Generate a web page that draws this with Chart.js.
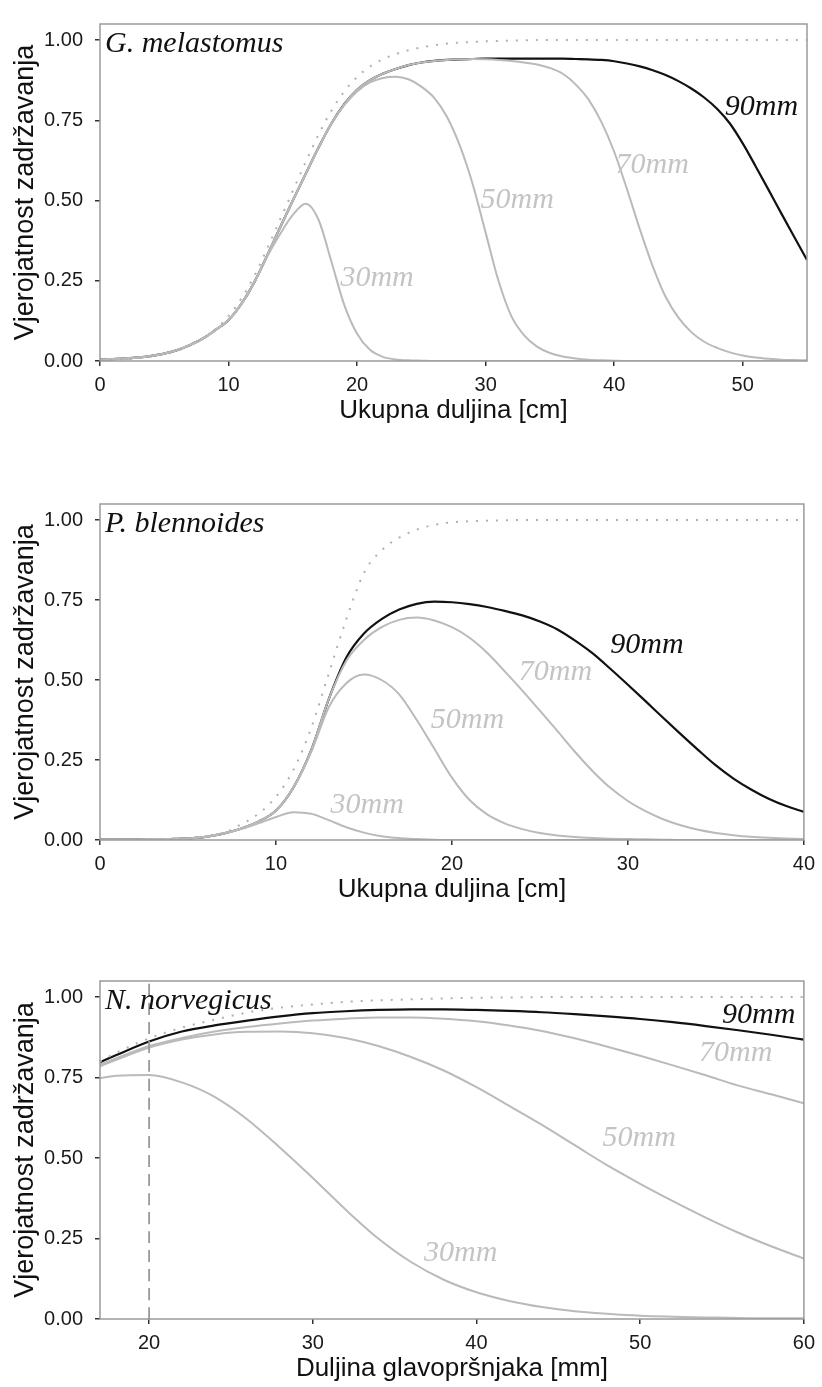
<!DOCTYPE html>
<html>
<head>
<meta charset="utf-8">
<script src="https://cdn.jsdelivr.net/npm/chart.js@4.4.1/dist/chart.umd.min.js"></script>
<style>
  body { margin: 0; background: #fff; overflow: hidden; }
  canvas { position: absolute; left: 0; }
</style>
</head>
<body>
<canvas id="c1" width="822" height="440" style="top:0px"></canvas>
<canvas id="c2" width="822" height="439" style="top:480px"></canvas>
<canvas id="c3" width="822" height="441" style="top:957px"></canvas>
<script>
// shared
const yTicks = [0, 0.25, 0.5, 0.75, 1]
const sizeLabels = ["30mm", "50mm", "70mm", "90mm"]

// G. melastomus (x = 0..55 cm)
const gmX = [0, 1, 2, 3, 4, 5, 6, 7, 8, 9, 10, 11, 12, 13, 14, 15, 16, 17, 18, 19, 20, 21, 22, 23, 24, 25, 26, 27, 28, 29, 30, 31, 32, 33, 34, 35, 36, 37, 38, 39, 40, 41, 42, 43, 44, 45, 46, 47, 48, 49, 50, 51, 52, 53, 54, 55]
const gmTicks = [0, 10, 20, 30, 40, 50]
const gmSel = [0.003, 0.004, 0.006, 0.009, 0.014, 0.021, 0.032, 0.048, 0.07, 0.1, 0.14, 0.195, 0.265, 0.35, 0.44, 0.53, 0.62, 0.705, 0.78, 0.84, 0.885, 0.917, 0.94, 0.956, 0.968, 0.977, 0.984, 0.989, 0.992, 0.994, 0.996, 0.997, 0.998, 0.999,
  1, 1, 1, 1, 1, 1, 1, 1, 1, 1, 1, 1, 1, 1, 1, 1, 1, 1, 1, 1, 1, 1]
const gm30 = [0.004, 0.006, 0.008, 0.011, 0.016, 0.023, 0.034, 0.05, 0.07, 0.097, 0.128, 0.178, 0.245, 0.325, 0.395, 0.455, 0.49, 0.44, 0.31, 0.175, 0.085, 0.035, 0.013, 0.005, 0.002, 0.001,
  0, 0, 0, 0, 0, 0, 0, 0, 0, 0, 0, 0, 0, 0, 0, 0, 0, 0, 0, 0, 0, 0, 0, 0, 0, 0, 0, 0, 0, 0]
const gm50 = [0.004, 0.006, 0.008, 0.011, 0.016, 0.023, 0.034, 0.05, 0.07, 0.097, 0.128, 0.178, 0.245, 0.328, 0.415, 0.5, 0.583, 0.665, 0.74, 0.797, 0.84, 0.868, 0.882, 0.886, 0.878, 0.855, 0.82, 0.76, 0.67, 0.55, 0.4, 0.25, 0.14, 0.08, 0.045, 0.025, 0.014, 0.008, 0.004, 0.002, 0.001,
  0, 0, 0, 0, 0, 0, 0, 0, 0, 0, 0, 0, 0, 0, 0]
const gm70 = [0.004, 0.006, 0.008, 0.011, 0.016, 0.023, 0.034, 0.05, 0.07, 0.097, 0.128, 0.178, 0.245, 0.328, 0.415, 0.5, 0.583, 0.665, 0.74, 0.8, 0.845, 0.875, 0.895, 0.91, 0.922, 0.93, 0.935, 0.938, 0.94,
  0.941, 0.94, 0.938, 0.935, 0.93, 0.924, 0.913, 0.895, 0.862, 0.815, 0.745, 0.652, 0.535, 0.41, 0.295, 0.2, 0.135, 0.09, 0.06, 0.041, 0.027, 0.017, 0.011, 0.007, 0.004, 0.003, 0.002]
const gm90 = [0.004, 0.006, 0.008, 0.011, 0.016, 0.023, 0.034, 0.05, 0.07, 0.097, 0.128, 0.178, 0.245, 0.328, 0.415, 0.5, 0.583, 0.665, 0.74, 0.8, 0.845, 0.875, 0.895, 0.91, 0.922, 0.93, 0.935, 0.938, 0.94,
  0.941, 0.942, 0.942, 0.942, 0.942, 0.942, 0.942, 0.942, 0.941, 0.94, 0.938, 0.934, 0.927, 0.918, 0.906, 0.891, 0.872, 0.849, 0.821, 0.786, 0.74, 0.678, 0.607, 0.534, 0.46, 0.387, 0.315]
const gmLabelX = [18.7, 29.6, 40.1, 48.6]
const gmLabelY = [0.235, 0.476, 0.587, 0.765]

// P. blennoides (x = 0..40 cm)
const pbX = [0, 1, 2, 3, 4, 5, 6, 7, 8, 9, 10, 11, 12, 13, 14, 15, 16, 17, 18, 19, 20, 21, 22, 23, 24, 25, 26, 27, 28, 29, 30, 31, 32, 33, 34, 35, 36, 37, 38, 39, 40]
const pbTicks = [0, 10, 20, 30, 40]
const pbSel = [0.001, 0.001, 0.002, 0.002, 0.003, 0.005, 0.01, 0.022, 0.048, 0.082, 0.135, 0.22, 0.35, 0.52, 0.69, 0.835, 0.905, 0.945, 0.97, 0.985, 0.993, 0.996, 0.998, 0.999, 1, 1, 1, 1, 1, 1, 1, 1, 1, 1, 1, 1, 1, 1, 1, 1, 1]
const pb30 = [0.001, 0.001, 0.001, 0.002, 0.003, 0.005, 0.01, 0.02, 0.034, 0.052, 0.072, 0.087, 0.082, 0.062, 0.04, 0.023, 0.012, 0.006, 0.003, 0.001, 0, 0, 0, 0, 0, 0, 0, 0, 0, 0, 0, 0, 0, 0, 0, 0, 0, 0, 0, 0, 0]
const pb50 = [0.001, 0.001, 0.001, 0.002, 0.003, 0.005, 0.01, 0.02, 0.035, 0.057, 0.092, 0.165, 0.275, 0.415, 0.49, 0.517, 0.5, 0.455, 0.375, 0.285, 0.195, 0.125, 0.08, 0.052, 0.034, 0.022, 0.014, 0.009, 0.006, 0.004, 0.003, 0.002, 0.001, 0, 0, 0, 0, 0, 0, 0, 0]
const pb70 = [0.001, 0.001, 0.001, 0.002, 0.003, 0.005, 0.01, 0.02, 0.035, 0.057, 0.092, 0.165, 0.28, 0.44, 0.56, 0.625, 0.665, 0.688, 0.695, 0.686, 0.665, 0.632, 0.585, 0.527, 0.467, 0.404, 0.34, 0.275, 0.215, 0.163, 0.122, 0.09, 0.065, 0.046, 0.032, 0.022, 0.015, 0.01, 0.007, 0.005, 0.003]
const pb90 = [0.001, 0.001, 0.001, 0.002, 0.003, 0.005, 0.01, 0.02, 0.035, 0.057, 0.092, 0.165, 0.28, 0.44, 0.57, 0.645, 0.69, 0.72, 0.738, 0.745, 0.743, 0.737, 0.728, 0.716, 0.702, 0.683, 0.658, 0.623, 0.583, 0.535, 0.485, 0.434, 0.382, 0.331, 0.281, 0.233, 0.192, 0.158, 0.129, 0.106, 0.088]
const pbLabelX = [13.1, 18.8, 23.8, 29.0]
const pbLabelY = [0.083, 0.349, 0.5, 0.585]

// N. norvegicus (x = 17..60 mm)
const nnX = [17, 18, 20, 22, 24, 26, 28, 30, 32, 34, 36, 38, 40, 42, 44, 46, 48, 50, 52, 54, 56, 58, 60]
const nnTicks = [20, 30, 40, 50, 60]
const nnSel = [0.8, 0.827, 0.872, 0.905, 0.93, 0.952, 0.967, 0.977, 0.985, 0.99, 0.993, 0.996, 0.998, 0.999, 1, 1, 1, 1, 1, 1, 1, 1, 1]
const nn30 = [0.748, 0.756, 0.758, 0.735, 0.69, 0.62, 0.532, 0.438, 0.34, 0.25, 0.177, 0.122, 0.083, 0.056, 0.037, 0.024, 0.016, 0.01, 0.007, 0.005, 0.003, 0.002, 0.002]
const nn50 = [0.785, 0.805, 0.843, 0.868, 0.884, 0.892, 0.893, 0.888, 0.873, 0.848, 0.814, 0.772, 0.72, 0.662, 0.603, 0.54, 0.477, 0.42, 0.366, 0.315, 0.268, 0.226, 0.188]
const nn70 = [0.79, 0.81, 0.848, 0.873, 0.893, 0.907, 0.918, 0.927, 0.933, 0.937, 0.937, 0.933, 0.925, 0.912, 0.895, 0.872, 0.846, 0.818, 0.788, 0.757, 0.725, 0.698, 0.67]
const nn90 = [0.798, 0.82, 0.862, 0.893, 0.912, 0.927, 0.94, 0.95, 0.956, 0.96, 0.962, 0.962, 0.96, 0.957, 0.953, 0.947, 0.94, 0.932, 0.922, 0.91, 0.897, 0.883, 0.868]
const nnRefX = [20, 20]
const nnRefY = [0, 1.05]
const nnLabelX = [36.8, 47.7, 53.6, 55.0]
const nnLabelY = [0.181, 0.538, 0.80, 0.921]

const GREY = "#bababa"
const LABEL_GREY = "#c4c4c4"
const BLACK = "#111111"
const SANS = "'Liberation Sans', Arial, Helvetica, sans-serif"
const SERIF = "'Liberation Serif', 'Times New Roman', serif"

function line(xs, ys, color, width, dash) {
  return {
    data: xs.map((x, i) => ({ x: x, y: ys[i] })),
    borderColor: color,
    borderWidth: width,
    borderDash: dash || [],
    pointRadius: 0,
    fill: false,
    cubicInterpolationMode: "monotone",
    borderJoinStyle: "round",
  }
}

// frame, species name and mesh labels
const panelDeco = {
  id: "panelDeco",
  afterDatasetsDraw(chart, args, opts) {
    const { ctx, chartArea: a, scales } = chart
    ctx.save()
    ctx.strokeStyle = "#9a9a9a"
    ctx.lineWidth = 1.5
    ctx.strokeRect(a.left, a.top, a.right - a.left, a.bottom - a.top)

    ctx.font = "italic 30px " + SERIF
    ctx.fillStyle = BLACK
    ctx.textAlign = "left"
    ctx.textBaseline = "alphabetic"
    ctx.fillText(opts.species, a.left + 5, a.top + 28)

    sizeLabels.forEach((t, i) => {
      ctx.fillStyle = i === 3 ? BLACK : LABEL_GREY
      ctx.fillText(t, scales.x.getPixelForValue(opts.lx[i]), scales.y.getPixelForValue(opts.ly[i]))
    })
    ctx.restore()
  },
}

function makePanel(id, cfg) {
  const ctx = document.getElementById(id).getContext("2d")
  return new Chart(ctx, {
    type: "line",
    data: { datasets: cfg.datasets },
    options: {
      responsive: false,
      animation: false,
      devicePixelRatio: 1,
      layout: { padding: { top: 13, right: 15, left: 0, bottom: 0 } },
      plugins: {
        legend: { display: false },
        tooltip: { enabled: false },
        panelDeco: { species: cfg.species, lx: cfg.lx, ly: cfg.ly },
      },
      scales: {
        x: {
          type: "linear",
          min: cfg.xMin,
          max: cfg.xMax,
          afterBuildTicks: (s) => { s.ticks = cfg.xTicks.map((v) => ({ value: v })) },
          afterFit: (s) => { s.height = 79 },
          border: { display: false },
          grid: { drawOnChartArea: false, tickLength: 5, color: "#333", lineWidth: 1.5 },
          ticks: { color: "#1a1a1a", font: { family: SANS, size: 20 }, padding: 7, maxRotation: 0, autoSkip: false, callback: (v) => String(v) },
          title: { display: true, text: cfg.xTitle, color: "#111", font: { family: SANS, size: 26 }, padding: { top: 0, bottom: 14 } },
        },
        y: {
          min: 0,
          max: 1.05,
          afterBuildTicks: (s) => { s.ticks = yTicks.map((v) => ({ value: v })) },
          afterFit: (s) => { s.width = 100 },
          border: { display: false },
          grid: { drawOnChartArea: false, tickLength: 5, color: "#333", lineWidth: 1.5 },
          ticks: { color: "#1a1a1a", font: { family: SANS, size: 20 }, padding: 12, callback: (v) => v.toFixed(2) },
          title: { display: true, text: "Vjerojatnost zadržavanja", color: "#111", font: { family: SANS, size: 27 }, padding: { top: 9, bottom: 0 } },
        },
      },
    },
    plugins: [panelDeco],
  })
}

makePanel("c1", {
  species: "G. melastomus",
  xMin: 0, xMax: 55, xTicks: gmTicks,
  xTitle: "Ukupna duljina [cm]",
  lx: gmLabelX, ly: gmLabelY,
  datasets: [
    line(gmX, gmSel, "#b0b0b0", 2, [2, 8]),
    line(gmX, gm30, GREY, 2),
    line(gmX, gm50, GREY, 2),
    line(gmX, gm70, GREY, 2),
    line(gmX, gm90, BLACK, 2.2),
  ],
})

makePanel("c2", {
  species: "P. blennoides",
  xMin: 0, xMax: 40, xTicks: pbTicks,
  xTitle: "Ukupna duljina [cm]",
  lx: pbLabelX, ly: pbLabelY,
  datasets: [
    line(pbX, pbSel, "#b0b0b0", 2, [2, 8]),
    line(pbX, pb30, GREY, 2),
    line(pbX, pb50, GREY, 2),
    line(pbX, pb70, GREY, 2),
    line(pbX, pb90, BLACK, 2.2),
  ],
})

makePanel("c3", {
  species: "N. norvegicus",
  xMin: 17, xMax: 60, xTicks: nnTicks,
  xTitle: "Duljina glavopršnjaka [mm]",
  lx: nnLabelX, ly: nnLabelY,
  datasets: [
    line(nnRefX, nnRefY, "#999999", 1.8, [12, 7]),
    line(nnX, nnSel, "#b0b0b0", 2, [2, 8]),
    line(nnX, nn30, GREY, 2),
    line(nnX, nn50, GREY, 2),
    line(nnX, nn70, GREY, 2),
    line(nnX, nn90, BLACK, 2.2),
  ],
})
</script>
</body>
</html>
